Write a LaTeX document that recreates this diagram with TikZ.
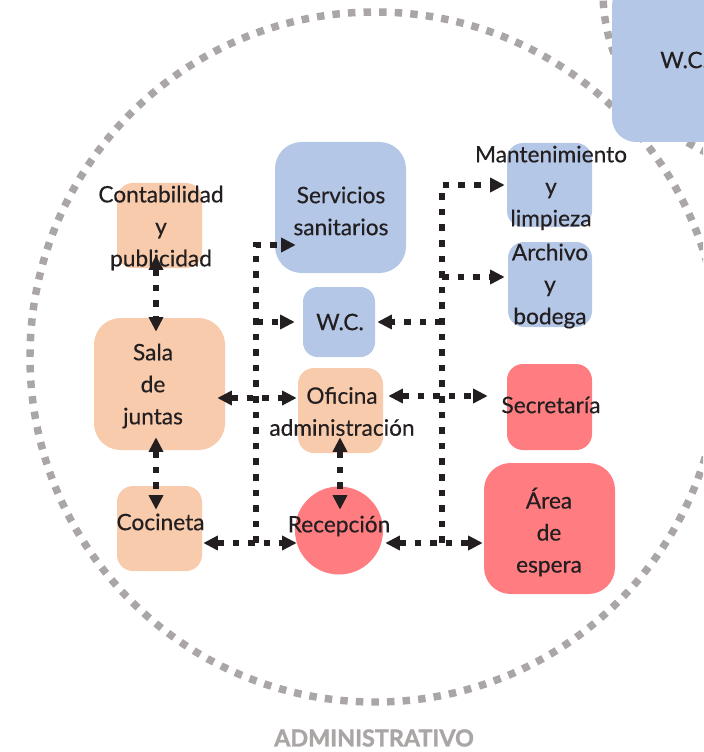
\documentclass[tikz,border=0pt]{standalone}
\usepackage{fontspec}
\setmainfont{Lato}[FakeBold=0.4]
\newfontfamily\admfont{Lato}[FakeBold=1.6]
\usetikzlibrary{arrows.meta,calc}
\definecolor{cblue}{HTML}{B4C7E7}
\definecolor{corange}{HTML}{F8CBAD}
\definecolor{cred}{HTML}{FF7C80}
\definecolor{cgray}{RGB}{170,166,166}
\definecolor{cink}{HTML}{231F20}
\begin{document}
\begin{tikzpicture}[x=0.75pt,y=-0.75pt,
  zone/.style={draw=cgray,line width=5.6pt,dash pattern=on 5.6pt off 6.1pt},
  room/.style n args={3}{rectangle,inner sep=0pt,minimum width=#1*0.75pt,minimum height=#2*0.75pt,fill=#3},
  lbl/.style={text=cink,font=\fontsize{17pt}{24pt}\selectfont,align=center,inner sep=0pt},
  conn/.style={draw=cink,line width=5pt,dash pattern=on 5pt off 6.7pt},
  >={Triangle[width=10.5pt,length=11pt]}
]
\useasboundingbox (0,0) rectangle (703,752);
% zones
\begin{scope}
\clip (0,0) rectangle (703,752);
\draw[zone] (375,357) circle[radius=258.75pt];
\draw[zone] (779,-8) circle[radius=132pt];
\end{scope}
% rooms
\node[room={150}{160}{cblue},rounded corners=18pt] (wcb) at (687,62) {};
\node[room={85}{85}{corange},rounded corners=12pt] (cont) at (159.5,225.5) {};
\node[room={131}{131}{cblue},rounded corners=20pt] (serv) at (340.5,207.5) {};
\node[room={72}{70}{cblue},rounded corners=11pt] (wc) at (339,322) {};
\node[room={85}{84}{cblue},rounded corners=12pt] (mant) at (549.5,185) {};
\node[room={84}{85}{cblue},rounded corners=12pt] (arch) at (550,284.5) {};
\node[room={131}{132}{corange},rounded corners=20pt] (sala) at (159.5,384) {};
\node[room={85}{85}{corange},rounded corners=12pt] (ofi) at (340.5,410.5) {};
\node[room={85}{86}{cred},rounded corners=12pt] (sec) at (549.5,407) {};
\node[room={85}{85}{corange},rounded corners=12pt] (coc) at (159.5,528.5) {};
\node[circle,fill=cred,inner sep=0pt,minimum size=66pt] (rec) at (339,530.5) {};
\node[room={131}{131}{cred},rounded corners=20pt] (area) at (549.5,528.5) {};
% labels
\node[lbl,anchor=west] (twcb) at (660,60) {W.C.};
\node[lbl] (tcont) at (161,228) {Contabilidad\\y\\publicidad};
\node[lbl] (tserv) at (341,211) {Servicios\\sanitarios};
\node[lbl] (twc) at (340,322) {W.C.};
\node[lbl] (tmant) at (551,188) {Mantenimiento\\y\\limpieza};
\node[lbl] (tarch) at (550,286) {Archivo\\y\\bodega};
\node[lbl] (tsala) at (153,386) {Sala\\de\\juntas};
\node[lbl] (tofi) at (342,411.5) {Oficina\\administración};
\node[lbl] (tsec) at (551,405) {Secretaría};
\node[lbl] (tcoc) at (160.5,522) {Cocineta};
\node[lbl] (trec) at (339,526) {Recepción};
\node[lbl] (tarea) at (549,532) {Área\\de\\espera};
\node[text=cgray,font=\admfont\fontsize{17.5pt}{20pt}\selectfont\bfseries,inner sep=0pt] (adm) at (374,738) {ADMINISTRATIVO};
% connectors
\coordinate (jA) at (256,543);
\coordinate (jB) at (442,543);
\coordinate (archtip) at ($(arch.west)+(-3,-7.5)$);
\draw[conn,<->] ($(cont.south)+(-3.5,-13)$) -- ($(sala.north)+(-3.5,14)$);
\draw[conn,<->] ($(sala.south)+(-3.5,-13)$) -- ($(coc.north)+(-3.5,24)$);
\draw[conn,<->] ($(sala.east)+(-8,14)$) -- ($(ofi.west)+(-1,-12.5)$);
\draw[conn,<->] ($(coc.east)+(1,14.5)$) -- ($(rec.west)+(2,12.5)$);
\draw[conn,->] (jA) |- ($(serv.west)+(21,37.5)$);
\draw[conn,->] (jA |- wc.west) -- ($(wc.west)+(-8,0)$);
\draw[conn,<->] ($(ofi.south)+(-0.5,-16)$) -- ($(rec.north)+(1,23.5)$);
\draw[conn,->] (jB) |- ($(mant.west)+(-2,0)$);
\draw[conn,->] (jB |- archtip) -- (archtip);
\draw[conn,->] (jB |- wc.east) -- ($(wc.east)+(2,0)$);
\draw[conn,<->] ($(ofi.east)+(5,-14.5)$) -- ($(sec.west)+(-19,-11)$);
\draw[conn,<->] ($(rec.east)+(2,12.5)$) -- ($(area.west)+(-1,14.5)$);
\end{tikzpicture}
\end{document}
